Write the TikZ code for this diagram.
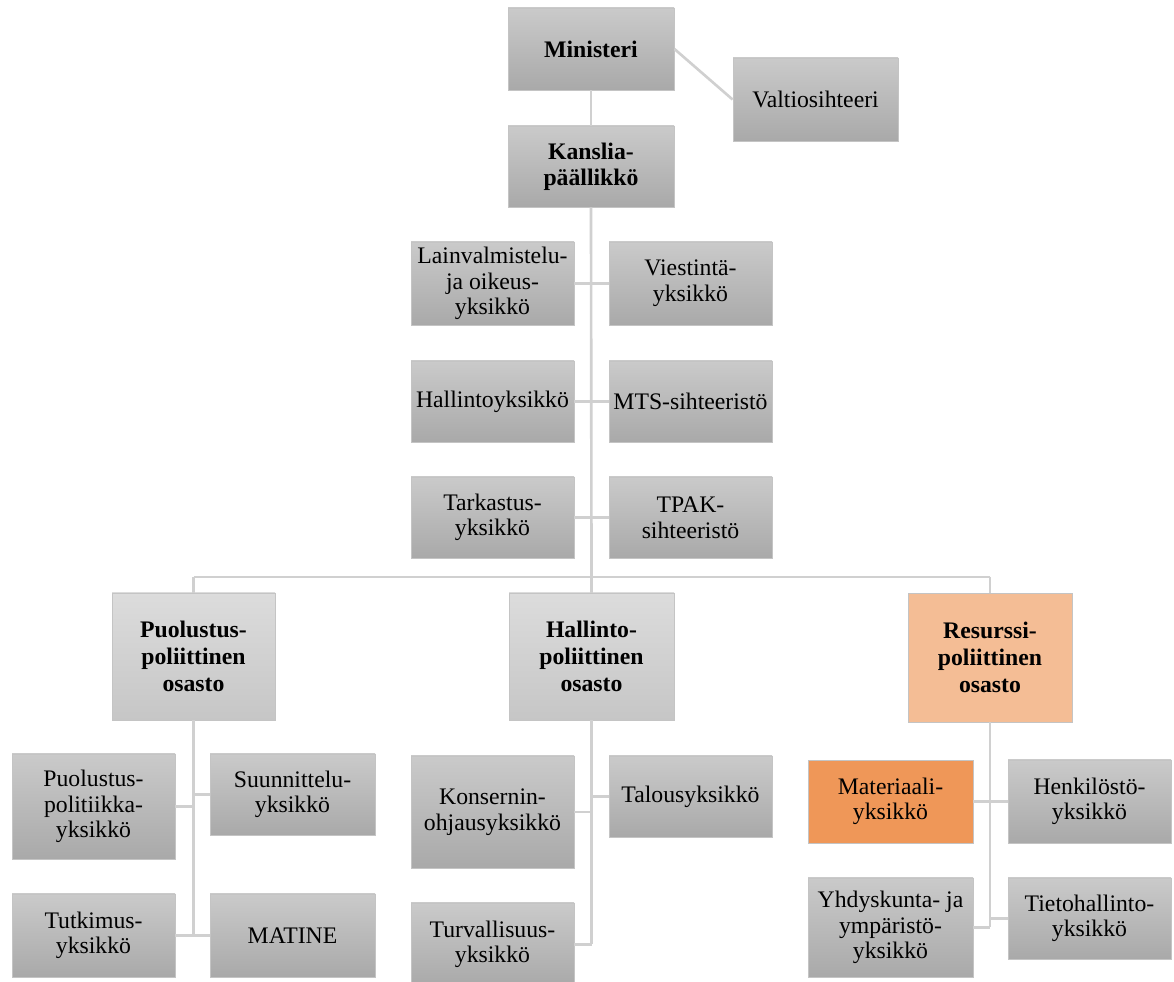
\documentclass[tikz,border=0pt]{standalone}
\usepackage{fontspec}
\setmainfont{Liberation Serif}
\definecolor{gtop}{HTML}{CACACA}
\definecolor{gbot}{HTML}{A9A9A9}
\definecolor{dtop}{HTML}{DCDCDC}
\definecolor{dbot}{HTML}{C6C6C6}
\definecolor{peach}{HTML}{F4BD95}
\definecolor{orng}{HTML}{EF9758}
\definecolor{edge}{HTML}{C4C4C4}
\definecolor{conn}{HTML}{D0D0D0}
\begin{document}
\begin{tikzpicture}[x=0.02cm,y=-0.02cm,
  base/.style={draw=edge,line width=0.5pt,inner sep=1pt,align=center,
    font=\fontsize{13.5}{14.6}\selectfont,text=black},
  gbox/.style={base,top color=gtop,bottom color=gbot},
  bgbox/.style={gbox,font=\fontsize{13.5}{14.6}\selectfont\bfseries},
  dbox/.style={base,top color=dtop,bottom color=dbot,font=\fontsize{13.5}{15.4}\selectfont\bfseries},
  pbox/.style={base,fill=peach,font=\fontsize{13.5}{15.4}\selectfont\bfseries},
  obox/.style={base,fill=orng},
  wh/.style 2 args={minimum width=#1*0.02cm,minimum height=#2*0.02cm},
  link/.style={draw=conn,line width=1.5pt}]
\useasboundingbox (0,0) rectangle (1174,982);
% top
\node[bgbox,wh={166}{82}] (min) at (591,49) {Ministeri};
\node[gbox,wh={165}{83}] (val) at (815.5,99.5) {Valtiosihteeri};
\node[bgbox,wh={166}{81}] (kan) at (591,166.5) {Kanslia-\\päällikkö};
% staff units
\node[gbox,wh={163}{83}] (lain) at (492.5,283.5) {Lainvalmistelu-\\ja oikeus-\\yksikkö};
\node[gbox,wh={163}{83}] (vies) at (690.5,283.5) {Viestintä-\\yksikkö};
\node[gbox,wh={163}{81}] (hal) at (492.5,401.5) {Hallintoyksikkö};
\node[gbox,wh={163}{81}] (mts) at (690.5,401.5) {MTS-sihteeristö};
\node[gbox,wh={163}{81}] (tar) at (492.5,517.5) {Tarkastus-\\yksikkö};
\node[gbox,wh={163}{81}] (tpak) at (690.5,517.5) {TPAK-\\sihteeristö};
% departments
\node[dbox,wh={163}{127}] (puo) at (193.5,656.5) {Puolustus-\\poliittinen\\osasto};
\node[dbox,wh={165}{127}] (hpo) at (591.5,656.5) {Hallinto-\\poliittinen\\osasto};
\node[pbox,wh={164}{129}] (res) at (990,657.5) {Resurssi-\\poliittinen\\osasto};
% Puolustuspoliittinen units
\node[gbox,wh={163}{105}] (pp) at (93.5,806.5) {Puolustus-\\politiikka-\\yksikkö};
\node[gbox,wh={165}{81}] (suu) at (292.5,794.5) {Suunnittelu-\\yksikkö};
\node[gbox,wh={163}{83}] (tut) at (93.5,935.5) {Tutkimus-\\yksikkö};
\node[gbox,wh={165}{83}] (mat) at (292.5,935.5) {MATINE};
% Hallintopoliittinen units
\node[gbox,wh={163}{112}] (kon) at (492.5,812) {Konsernin-\\ohjausyksikkö};
\node[gbox,wh={163}{81}] (tal) at (690.5,796.5) {Talousyksikkö};
\node[gbox,wh={163}{83}] (tur) at (492.5,944.5) {Turvallisuus-\\yksikkö};
% Resurssipoliittinen units
\node[obox,wh={165}{83}] (mtr) at (890.5,801.5) {Materiaali-\\yksikkö};
\node[gbox,wh={163}{83}] (hen) at (1089.5,801.5) {Henkilöstö-\\yksikkö};
\node[gbox,wh={165}{99}] (yhd) at (890.5,927.5) {Yhdyskunta- ja\\ympäristö-\\yksikkö};
\node[gbox,wh={163}{81}] (tie) at (1089.5,918.5) {Tietohallinto-\\yksikkö};
% bus coordinates
\coordinate (busL) at (193.5,577);
\coordinate (busR) at (990,577);
\coordinate (busM) at (591.5,577);
% connectors
\draw[link] (min.south) -- (kan.north);
\draw[link] (min.east) -- (val.west);
\draw[link] (kan.south) -- (busM);
\draw[link] (busL) -- (busR);
\draw[link] (busL) -- (puo.north);
\draw[link] (busM) -- (hpo.north);
\draw[link] (busR) -- (res.north);
\draw[link] (lain.east) -- (vies.west);
\draw[link] (hal.east) -- (mts.west);
\draw[link] (tar.east) -- (tpak.west);
\draw[link] (puo.south) -- (puo.south |- tut.east);
\draw[link] (pp.east) -- (pp.east -| puo.south);
\draw[link] (suu.west) -- (suu.west -| puo.south);
\draw[link] (tut.east) -- (mat.west);
\draw[link] (hpo.south) -- (hpo.south |- tur.east);
\draw[link] (kon.east) -- (kon.east -| hpo.south);
\draw[link] (tal.west) -- (tal.west -| hpo.south);
\draw[link] (tur.east) -- (tur.east -| hpo.south);
\draw[link] (res.south) -- (res.south |- yhd.east);
\draw[link] (mtr.east) -- (hen.west);
\draw[link] (yhd.east) -- (yhd.east -| res.south);
\draw[link] (tie.west) -- (tie.west -| res.south);
\end{tikzpicture}
\end{document}
